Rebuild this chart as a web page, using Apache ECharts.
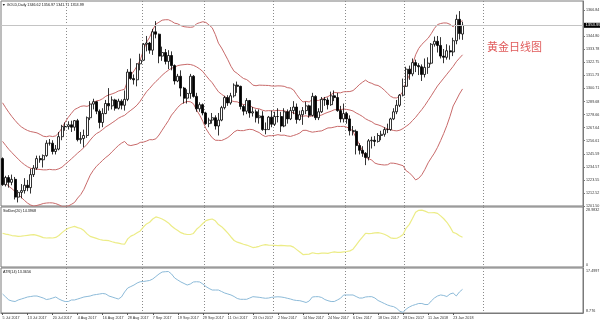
<!DOCTYPE html>
<html><head><meta charset="utf-8">
<script src="https://cdn.jsdelivr.net/npm/echarts@6/dist/echarts.min.js"></script>
<style>html,body{margin:0;padding:0;background:#fff}#c{width:600px;height:324px}</style>
</head><body><div id="c"></div>
<script>
const tickLabels = ["5 Jul 2017","13 Jul 2017","20 Jul 2017","4 Aug 2017","16 Aug 2017","28 Aug 2017","7 Sep 2017","19 Sep 2017","29 Sep 2017","11 Oct 2017","23 Oct 2017","2 Nov 2017","14 Nov 2017","24 Nov 2017","6 Dec 2017","18 Dec 2017","28 Dec 2017","11 Jan 2018","23 Jan 2018"];

const opens = [1241.5,1219.5,1225.5,1221.5,1224,1209,1213,1214.5,1219,1217,1228,1233.5,1241.5,1240.5,1244,1254.5,1254.5,1247.5,1249.5,1260,
1268.5,1268.5,1270,1268,1273.5,1257.5,1258.5,1261,1276,1287.5,1289.5,1281.5,1272,1279.5,1288,1286,1291,1284,1290,1286.5,
1291.5,1314.5,1309,1308,1321.5,1324.5,1338,1339,1333,1348.5,1346.5,1328,1331,1323.5,1328.5,1320,1307,1311,1301,1292.5,
1296.5,1311,1294,1283.5,1287,1280,1271,1274,1276,1269,1274,1284.5,1293,1288.5,1294.5,1303.5,1302.5,1285.5,1281.5,1290.5,
1280,1281,1276,1277.5,1266,1266,1276.5,1270.5,1277,1277,1269,1281,1275,1282,1285,1274.5,1278.5,1282,1286,1278,
1294,1276,1281,1291.5,1291,1287,1294.5,1293,1282,1275,1279.5,1275,1265,1264.5,1252.5,1248.5,1246,1242.5,1256.5,1257,
1256,1261,1262,1266,1266,1275,1281,1286.5,1295,1302.5,1317,1313,1322.5,1320,1319,1312.5,1318.5,1322,1338,1340.5,
1337,1328,1327,1332.5,1331.5,1341,1359,1346.62];
const highs = [1242.5,1227,1227.5,1228,1226,1215,1220,1225,1223.5,1233,1236,1244,1244,1245,1257,1258,1257,1253,1264,1270,
1272,1273,1273.5,1274,1275,1264,1266,1277,1290,1292,1290,1283,1284,1291,1301,1294,1292,1292,1291.5,1299,
1317,1326,1312.5,1322,1330,1339,1345,1340,1351,1357.5,1347,1336,1334,1333,1332,1321,1313,1316,1302,1300,
1313,1312,1297,1289,1288,1281,1276,1280,1278,1280,1286,1294.5,1295,1297,1305,1306.5,1303,1287,1292.5,1291,
1285,1283,1283,1281.5,1272,1277.5,1282,1281,1284,1281,1284,1283,1285,1290,1288,1282,1285,1289.5,1287,1297,
1295,1284,1293.5,1293.5,1293,1298,1299,1297,1286,1288,1281,1278,1269,1266,1254.5,1252,1247,1258,1260,1260.5,
1263,1265,1268,1271,1276,1284,1291,1296,1309,1319,1320,1326,1325,1322,1321,1326,1327,1339,1344.5,1345,
1344,1334,1338,1337,1343.5,1363,1366,1356.97];
const lows = [1218.5,1218,1217,1219,1207,1204.5,1208,1212,1214,1212,1226,1232,1238,1234,1243,1252.5,1245,1245,1248.5,1257,
1265,1266,1264,1265,1256,1254,1251,1259,1274,1283,1279,1267,1268,1279,1282,1283,1282,1283,1283,1282,
1290,1308,1304,1302.5,1316,1324,1332,1330,1329,1343,1322,1324,1321,1317,1316,1304,1306,1294,1288,1288,
1292,1293,1281,1281,1278,1270,1268,1271,1266,1261,1273,1283,1286,1287,1293,1297,1283,1278,1279,1276,
1277,1272,1271,1265,1262,1266,1268,1269,1272,1264,1268,1271,1274,1279,1271,1273.5,1270,1279,1276,1277,
1274,1274,1280,1286,1283,1286,1290,1281,1272,1272,1271,1261,1261,1245,1245,1243,1236,1240,1250,1252,
1255,1257,1260,1263,1265,1274,1279,1285,1294,1302,1308,1311,1314.5,1312,1307,1310,1313,1321,1336,1331,
1326,1322,1325,1325,1328,1338,1342,1341.71];
const closes = [1219.5,1225.5,1221.5,1224,1209,1213,1214.5,1219,1217,1228,1233.5,1241.5,1240.5,1244,1254.5,1254.5,1247.5,1249.5,1260,1268.5,
1268.5,1270,1268,1273.5,1257.5,1258.5,1261,1276,1287.5,1289.5,1281.5,1272,1279.5,1288,1286,1291,1284,1290,1286.5,1291.5,
1314.5,1309,1308,1321.5,1324.5,1338,1339,1333,1348.5,1346.5,1328,1331,1323.5,1328.5,1320,1307,1311,1301,1292.5,1296.5,
1311,1294,1283.5,1287,1280,1271,1274,1276,1269,1274,1284.5,1293,1288.5,1294.5,1303.5,1302.5,1285.5,1281.5,1290.5,1280,
1281,1276,1277.5,1266,1266,1276.5,1270.5,1277,1277,1269,1281,1275,1282,1285,1274.5,1278.5,1282,1286,1278,1294,
1276,1281,1291.5,1291,1287,1294.5,1293,1282,1275,1279.5,1275,1265,1264.5,1252.5,1248.5,1246,1242.5,1256.5,1257,1256,
1261,1262,1266,1266,1275,1281,1286.5,1295,1302.5,1317,1313,1322.5,1320,1319,1312.5,1318.5,1322,1338,1340.5,1337,
1328,1327,1332.5,1331.5,1341,1359,1347,1353.99];

const bbUpper = [1288.6,1284.4,1280.5,1276.9,1273.7,1270.7,1268.3,1266.6,1265.2,1264.3,
1263.8,1263.2,1261.9,1260.4,1260.0,1260.6,1260.1,1260.7,1263.3,1267.5,
1272.3,1276.3,1279.7,1282.9,1284.2,1285.6,1286.0,1285.6,1286.7,1288.8,
1290.2,1290.7,1292.1,1294.1,1295.3,1296.1,1297.1,1298.5,1299.3,1300.0,
1307.5,1312.1,1315.5,1319.7,1324.8,1332.6,1339.5,1343.9,1350.2,1355.0,
1356.6,1358.3,1358.7,1358.7,1357.4,1355.8,1355.2,1353.7,1352.8,1352.5,
1352.3,1352.6,1355.3,1356.2,1357.0,1356.4,1354.2,1351.9,1346.2,1338.9,
1334.8,1329.9,1324.9,1319.4,1315.2,1313.4,1311.1,1309.1,1308.2,1306.2,
1303.5,1303.0,1303.5,1303.4,1303.3,1303.2,1302.8,1302.7,1302.9,1302.8,
1302.5,1301.4,1301.0,1299.4,1295.5,1291.9,1289.3,1289.8,1289.3,1291.4,
1290.6,1290.6,1291.7,1293.0,1293.8,1295.5,1297.3,1297.1,1297.0,1297.9,
1298.0,1298.1,1298.9,1301.2,1303.9,1305.9,1307.7,1305.9,1305.0,1303.7,
1303.2,1301.6,1299.3,1296.7,1294.1,1292.8,1292.7,1294.7,1298.3,1306.4,
1311.9,1320.4,1329.1,1334.5,1337.9,1340.5,1343.1,1346.9,1351.3,1354.6,
1355.5,1356.0,1355.9,1354.8,1352.7,1355.6,1356.4,1357.9];
const bbMiddle = [1256.0,1252.6,1249.3,1246.5,1243.7,1241.1,1238.5,1236.4,1234.6,1233.3,
1232.6,1232.6,1232.3,1232.0,1232.0,1232.4,1232.1,1232.1,1232.9,1234.3,
1236.7,1238.9,1241.3,1243.7,1246.2,1248.4,1250.8,1253.6,1257.1,1260.2,
1262.6,1264.1,1266.1,1268.3,1269.9,1271.7,1273.5,1275.5,1276.9,1278.0,
1280.3,1282.3,1284.3,1286.7,1290.0,1294.0,1297.9,1300.7,1303.8,1306.6,
1309.0,1311.9,1314.1,1316.1,1317.8,1318.6,1320.0,1320.5,1320.8,1321.1,
1320.9,1320.2,1318.9,1317.2,1315.0,1311.6,1308.4,1305.5,1301.6,1297.9,
1295.8,1293.9,1292.1,1290.4,1289.6,1289.4,1288.1,1287.1,1287.0,1286.2,
1284.7,1283.8,1283.5,1282.4,1281.7,1282.0,1281.8,1281.9,1282.3,1282.0,
1281.9,1281.0,1280.6,1280.2,1278.7,1277.5,1277.3,1277.6,1276.9,1277.6,
1277.4,1277.6,1278.3,1279.6,1280.6,1281.5,1282.7,1282.9,1282.8,1283.3,
1283.0,1282.5,1281.7,1280.0,1278.7,1277.1,1275.1,1273.7,1272.6,1270.7,
1270.0,1269.0,1267.7,1266.5,1265.9,1265.2,1264.9,1265.5,1266.9,1268.8,
1270.7,1273.6,1276.3,1279.7,1282.9,1286.5,1290.5,1294.5,1298.7,1302.8,
1306.1,1309.4,1312.7,1316.0,1319.3,1323.2,1326.2,1329.1];
const bbLower = [1223.4,1220.8,1218.1,1216.1,1213.7,1211.5,1208.7,1206.2,1203.9,1202.3,
1201.4,1202.0,1202.7,1203.6,1204.0,1204.2,1204.1,1203.5,1202.5,1201.1,
1201.1,1201.5,1202.9,1204.5,1208.2,1211.2,1215.6,1221.6,1227.5,1231.6,
1235.0,1237.5,1240.1,1242.5,1244.5,1247.3,1249.9,1252.5,1254.5,1256.0,
1253.1,1252.5,1253.1,1253.7,1255.2,1255.4,1256.3,1257.5,1257.4,1258.2,
1261.4,1265.5,1269.5,1273.5,1278.2,1281.4,1284.8,1287.3,1288.8,1289.7,
1289.5,1287.8,1282.5,1278.2,1273.0,1266.8,1262.6,1259.1,1257.0,1256.9,
1256.8,1257.9,1259.3,1261.4,1264.0,1265.4,1265.1,1265.1,1265.8,1266.2,
1265.9,1264.6,1263.5,1261.4,1260.1,1260.8,1260.8,1261.1,1261.7,1261.2,
1261.3,1260.6,1260.2,1261.0,1261.9,1263.1,1265.3,1265.4,1264.5,1263.8,
1264.2,1264.6,1264.9,1266.2,1267.4,1267.5,1268.1,1268.7,1268.6,1268.7,
1268.0,1266.9,1264.5,1258.8,1253.5,1248.3,1242.5,1241.5,1240.2,1237.7,
1236.8,1236.4,1236.1,1236.3,1237.7,1237.6,1237.1,1236.3,1235.5,1231.2,
1229.5,1226.8,1223.5,1224.9,1227.9,1232.5,1237.9,1242.1,1246.1,1251.0,
1256.7,1262.8,1269.5,1277.2,1285.9,1290.8,1296.0,1300.3];

const stdDev = [16.3,15.9,15.6,15.2,15.0,14.8,14.9,15.1,15.3,15.5,
15.6,15.3,14.8,14.2,14.0,14.1,14.0,14.3,15.2,16.6,
17.8,18.7,19.2,19.6,19.0,18.6,17.6,16.0,14.8,14.3,
13.8,13.3,13.0,12.9,12.7,12.2,11.8,11.5,11.2,11.0,
13.6,14.9,15.6,16.5,17.4,19.3,20.8,21.6,23.2,24.2,
23.8,23.2,22.3,21.3,19.8,18.6,17.6,16.6,16.0,15.7,
15.7,16.2,18.2,19.5,21.0,22.4,22.9,23.2,22.3,20.5,
19.5,18.0,16.4,14.5,12.8,12.0,11.5,11.0,10.6,10.0,
9.4,9.6,10.0,10.5,10.8,10.6,10.5,10.4,10.3,10.4,
10.3,10.2,10.2,9.6,8.4,7.2,6.0,6.1,6.2,6.9,
6.6,6.5,6.7,6.7,6.6,7.0,7.3,7.1,7.1,7.3,
7.5,7.8,8.6,10.6,12.6,14.4,16.3,16.1,16.2,16.5,
16.6,16.3,15.8,15.1,14.1,13.8,13.9,14.6,15.7,18.8,
20.6,23.4,26.4,27.4,27.5,27.0,26.3,26.2,26.3,25.9,
24.7,23.3,21.6,19.4,16.7,16.2,15.1,14.3968];

const atr = [12.46,11.88,11.30,11.10,11.00,11.30,11.49,11.68,11.88,11.97,
12.07,12.07,11.88,11.68,11.39,11.49,11.68,11.88,11.49,11.20,
11.00,11.00,11.30,11.30,11.49,11.68,11.88,11.97,12.07,12.27,
12.36,12.46,12.56,12.46,12.07,11.88,11.68,11.49,11.88,12.85,
13.62,13.91,14.20,14.59,14.84,14.88,14.98,15.08,15.37,15.85,
16.34,16.72,16.78,16.82,16.34,15.56,15.17,14.79,14.50,14.20,
14.40,14.79,14.84,14.79,14.40,13.91,13.53,13.23,13.23,13.23,
12.94,12.65,12.46,12.27,11.97,11.59,11.43,11.43,11.43,11.68,
11.94,11.88,11.82,11.72,11.63,11.68,11.82,11.88,11.92,11.88,
11.78,11.63,11.49,11.30,11.20,11.16,11.00,10.81,11.10,11.88,
11.94,11.94,11.78,11.39,11.16,11.00,11.00,11.30,11.63,12.27,
12.27,12.27,12.27,11.97,11.68,11.68,11.88,11.94,11.94,11.68,
11.20,10.91,10.62,10.33,10.13,10.00,9.65,9.10,8.90,9.55,
9.94,10.23,10.42,10.62,10.62,10.42,10.42,11.10,11.68,12.07,
12.27,12.17,11.97,12.46,12.65,12.07,12.85,13.3656];

const symbolName = "GOLD,Daily";
const chartTitle = "黄金日线图";
const bidPrice = 1353.99;
const priceMin = 1201.5, priceMax = 1374.5;
const sdMin = 0, sdMax = 28.9832;
const atrMin = 8.776, atrMax = 17.4997;
const gridLineBars = [21, 45, 65, 87, 110, 129, 154];
const slotCount = 186;

const categories = Array.from({length: slotCount}, (_, i) => String(i));
const candleData = opens.map((o, i) => [o, closes[i], lows[i], highs[i]]);
const last = closes.length - 1;

const FONT = 'Liberation Sans';
const labelEvery = 8;
const labelInterval = (i) => i % labelEvery === 0 && (i / labelEvery) < tickLabels.length;
const splitLineCfg = { show: true, interval: (i) => gridLineBars.indexOf(i) >= 0,
  lineStyle: { color: '#8a8a8a', type: [1, 2], width: 1 } };

const chart = echarts.init(document.getElementById('c'), null, { renderer: 'canvas' });
const grids = [
  { left: 1, right: 17, top: 1, height: 205 },
  { left: 1, right: 17, top: 207, height: 60 },
  { left: 1, right: 17, top: 268, height: 45 }
].map(g => Object.assign(g, { show: true, borderColor: '#7a7a7a', borderWidth: 1, containLabel: false, outerBoundsMode: 'none', backgroundColor: 'transparent' }));

const xAxes = [0, 1, 2].map(g => ({
  type: 'category', gridIndex: g, data: categories, boundaryGap: true,
  axisLine: { show: g === 2, lineStyle: { color: '#7a7a7a' } },
  axisTick: { show: g === 2, alignWithLabel: true, length: 2, interval: labelInterval, lineStyle: { color: '#555' } },
  axisLabel: { show: g === 2, interval: labelInterval, formatter: (v, i) => tickLabels[i / labelEvery] || '',
    align: 'left', fontSize: 3.7, color: '#333', margin: 3, fontFamily: FONT },
  splitLine: splitLineCfg
}));

const richPos = { t: { padding: [5, 0, 0, 0], fontSize: 3.7, color: '#333', fontFamily: FONT },
                  b: { padding: [0, 0, 5, 0], fontSize: 3.7, color: '#333', fontFamily: FONT } };

const yAxes = [
  { type: 'value', gridIndex: 0, position: 'right', min: priceMin, max: priceMax, interval: priceMin / 109,
    axisLine: { show: true, lineStyle: { color: '#7a7a7a' } },
    axisTick: { show: true, length: 2, lineStyle: { color: '#7a7a7a' } },
    axisLabel: { fontSize: 3.7, color: '#333', margin: 3, fontFamily: FONT, showMaxLabel: false,
      formatter: v => Math.abs(v - bidPrice) < 3 ? '' : v.toFixed(2) },
    splitLine: { show: false } },
  { type: 'value', gridIndex: 1, position: 'right', min: sdMin, max: sdMax, interval: sdMax,
    axisLine: { show: true, lineStyle: { color: '#7a7a7a' } }, axisTick: { show: false }, splitLine: { show: false },
    axisLabel: { margin: 3, showMinLabel: true, showMaxLabel: true,
      formatter: v => v === sdMin ? '{b|' + v + '}' : (v === sdMax ? '{t|' + v + '}' : ''), rich: richPos } },
  { type: 'value', gridIndex: 2, position: 'right', min: atrMin, max: atrMax,
    axisLine: { show: true, lineStyle: { color: '#7a7a7a' } }, axisTick: { show: false }, splitLine: { show: false },
    axisLabel: { margin: 3, showMinLabel: true, showMaxLabel: true,
      formatter: v => v === atrMin ? '{b|' + v + '}' : (v === atrMax ? '{t|' + v + '}' : ''), rich: richPos } }
];

const bandColor = '#c86a6a';
const lineSeries = (data, xi, color, width) => ({
  type: 'line', xAxisIndex: xi, yAxisIndex: xi, data: data, showSymbol: false, symbol: 'none',
  lineStyle: { color: color, width: width }, silent: true, animation: false, z: 3
});

const option = {
  animation: false,
  backgroundColor: '#ffffff',
  textStyle: { fontFamily: FONT },
  grid: grids,
  xAxis: xAxes,
  yAxis: yAxes,
  graphic: [
    { type: 'text', left: 2, top: 2.5, style: { text: '\u25BC ' + symbolName + ' ' + [opens[last], highs[last], lows[last], closes[last]].map(v => v.toFixed(2)).join(' '), font: '3.7px "Liberation Sans"', fill: '#111' } },
    { type: 'text', left: 3, top: 209, style: { text: 'StdDev(20) ' + stdDev[last].toFixed(4), font: '3.7px "Liberation Sans"', fill: '#111' } },
    { type: 'text', left: 3, top: 270, style: { text: 'ATR(14) ' + atr[last].toFixed(4), font: '3.7px "Liberation Sans"', fill: '#111' } },
    { type: 'text', left: 487, top: 41, style: { text: chartTitle, font: '11px "Noto Sans CJK SC"', fill: '#e05a5a' } }
  ],
  series: [
    lineSeries(bbUpper, 0, bandColor, 1),
    lineSeries(bbMiddle, 0, bandColor, 1),
    lineSeries(bbLower, 0, bandColor, 1),
    {
      type: 'candlestick', xAxisIndex: 0, yAxisIndex: 0, data: candleData, barWidth: 2.5, z: 4,
      itemStyle: { color: '#ffffff', color0: '#000000', borderColor: '#000000', borderColor0: '#000000', borderWidth: 0.8 },
      markLine: {
        silent: true, symbol: ['none', 'none'], animation: false,
        lineStyle: { color: '#c4c4c4', type: 'solid', width: 1 },
        label: { show: true, position: 'end', distance: 1, formatter: bidPrice.toFixed(2),
          backgroundColor: '#000', color: '#fff', fontSize: 4.2, padding: [0.6, 1.5, 0.4, 1.5], fontFamily: FONT },
        data: [{ yAxis: bidPrice }]
      }
    },
    lineSeries(stdDev, 1, '#ecec86', 1.2),
    lineSeries(atr, 2, '#8cbad8', 1)
  ]
};
chart.setOption(option);
</script>
</body></html>
